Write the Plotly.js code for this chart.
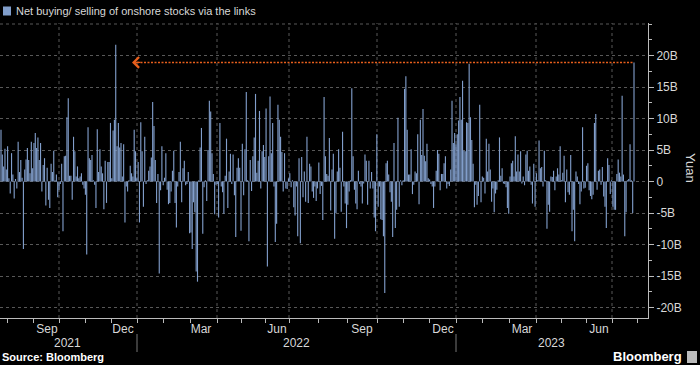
<!DOCTYPE html>
<html>
<head>
<meta charset="utf-8">
<script src="https://cdn.plot.ly/plotly-3.0.1.min.js"></script>
<style>
  html, body { margin: 0; padding: 0; background: #000; }
  #chart { width: 700px; height: 365px; }
</style>
</head>
<body>
<div id="chart"></div>
<script>
// Daily net buying / selling of onshore (A-share) stocks via the Stock Connect links, billions of yuan.
// One value per trading day, late Jul 2021 -> 31 Jul 2023.
const flowsAugOct2021 = [8.2, 4.3, 2.4, 5.2, 1.9, 5.6, 0.5, -1.9, 4.5, 1.1, -2.7, 0.4, -1.1, 6.3, 1.5, 3.4, 0.6, -10.7, 1.9, 3.5,
  5.3, 3.4, 1.3, 6.3, 2.1, 6.1, 7.7, 5.3, 7.0, 3.4, 6.1, -1.6, 2.6, 3.7, -3.8, 2.2, -2.9, -4.2, 2.8, 1.5,
  4.9, 0.2, 1.1, -2.5, -1.3, -0.4, 2.8, -7.9, 4.0, 4.1, 10.2, 13.2, 0.9, 0.9, -2.9, 7.1, 4.8, 0.8, 2.4, 0.5,
  0.8, 1.3, -0.5, -1.1, -2.1, -11.6, 8.6, 3.7, 3.4, 4.2, 0.2, -0.5, -4.2, 8.3, 1.5, 5.1, 2.4, 1.3, -4.4, 3.3,
  -3.4, 3.1];
const flowsNov2021Jan2022 = [3.1, 9.3, 0.5, 8.1, 9.8, 21.7, 5.6, 9.3, 5.4, 6.1, 0.8, 5.9, -6.5, -0.8, -1.6, 0.2, 2.5, 1.3, 0.8, 8.2,
  4.8, 0.5, 3.1, -6.5, 9.4, 4.8, -4.0, 7.1, -0.4, 0.2, 1.7, 2.4, 3.8, 12.6, 8.8, 3.4, -3.4, 1.2, -14.6, -1.4,
  5.6, -0.6, 0.6, 4.5, -1.3, -3.6, -3.4, -1.6, 1.7, 4.9, -3.4, -7.3, -0.8, 1.5, 6.3, -3.3, 2.1, 3.3, -0.6, -0.4,
  1.5, -8.2, -8.1, -10.7, -3.3, -4.9, -14.3, -15.9, 0.2, 5.4, 8.5, -8.3, -0.9, 0.2, -3.1, 5.0, 12.8, 11.1, 4.5, 1.2];
const flowsApr2022Jul2022 = [-5.2, -0.5, -0.4, -5.7, 9.3, -0.8, -1.7, -5.1, 0.9, 6.8, -4.2, 1.6, 4.4, -0.4, 4.3, -2.2, -8.8, 2.2, 3.7, 2.2,
  -7.8, 6.0, -2.2, 5.1, 14.2, 0.2, -9.5, 3.4, -1.5, 4.0, 7.0, 13.9, 1.4, 3.3, 11.2, -1.1, 4.8, 5.8, 3.9, 11.6,
  -13.5, 4.0, 13.5, 4.5, 9.3, -0.8, -9.6, -6.7, 12.2, 9.8, 7.1, 4.7, -1.6, 4.5, -1.1, -1.2, 0.5, 1.3, -0.9, 0.2,
  -4.1, -5.4, -0.8, -8.7, 3.7, -9.8, 3.9, -2.5, 1.6, -3.2, 7.1, -3.4, 2.8, 2.4, -1.6, -2.6, -0.8, -3.1, -1.1, 3.0,
  -2.0];
const flowsAugNov2022 = [-0.7, -6.1, 13.4, 4.0, 1.2, 0.9, 6.9, -4.6, 1.9, 4.4, -9.1, -5.0, 1.6, 5.1, 2.2, -4.8, 7.9, -0.8, -3.5, -7.4,
  -3.7, -1.6, 0.2, 14.8, 4.0, -1.3, -3.5, -4.4, 1.7, -0.4, -0.8, -3.5, -0.3, 4.3, 3.3, -3.7, 3.3, -1.1, 1.5, -1.1,
  -5.7, -7.9, 7.5, -4.0, -0.8, -6.0, -6.1, -8.7, -17.7, 2.9, 3.3, 1.1, -1.7, -3.2, -8.8, 6.1, -7.4, -4.5, 10.1, -4.0,
  0.2, -0.6, 0.2, 14.7, 16.7, 8.2, 1.1, 1.1, 5.1, -2.0, -0.5, 1.6, 1.3, 7.5, -3.6, 9.8, 4.2, 11.5, 4.1, 3.2,
  6.0];
const flowsDec2022Mar2023 = [0.5, 0.3, -0.4, -0.8, -4.2, -0.8, 1.7, 5.0, 4.4, -1.4, 1.2, 1.2, 2.9, 4.0, -1.1, -0.4, -0.7, 1.9, 12.8, 6.1,
  7.7, 5.9, 7.5, 9.7, 13.4, 9.8, 16.0, 4.9, 4.8, 9.4, 9.3, 18.7, 10.2, 6.6, 2.8, -4.1, -0.5, -3.7, -2.3, 12.2,
  -3.3, 0.8, 0.6, -1.9, 6.8, 1.6, 6.0, 1.9, -3.2, -1.1, -4.9, -1.9, -1.3, 0.2, 7.0, 0.9, 2.1, -0.3, -0.4, -0.9,
  -4.2, -5.1, 0.8, 2.9, 3.3, 0.8, 7.2, 1.6, 4.3, 1.6, 4.8, -0.3, 0.8, -0.6, 4.3, 4.9, 1.7, 2.4, -0.5, -3.5,
  2.8, -4.0];
const flowsApr2023Jul2023 = [1.3, 0.2, 6.5, 2.1, 2.3, -0.8, 4.9, 0.2, -7.5, -3.7, -4.8, 0.8, 0.7, 1.7, -1.4, 0.8, 2.1, 1.1, 5.6, 0.2,
  1.4, 4.1, -3.3, 1.9, -1.7, -2.1, 4.2, -7.9, -4.5, -9.5, 1.6, 0.8, -0.4, -3.6, -1.6, 8.6, -1.1, -1.0, 2.5, 2.9,
  -1.4, -2.3, -2.8, -2.1, 9.3, 10.7, -1.3, 1.7, 1.9, -0.5, 2.3, -2.4, -4.0, -7.4, 3.7, 2.6, -2.0, 0.2, -4.0, -4.5,
  -4.5, 1.2, 3.5, 1.4, 0.8, 13.6, 1.1, -8.7, -4.9, 0.2, 0.4, 5.9, 0.2, -5.0, 18.9];

const monthLabels = ['Sep', 'Dec', 'Mar', 'Jun', 'Sep', 'Dec', 'Mar', 'Jun'];
const yearLabels = ['2021', '2022', '2023'];
const yTickValues = [-20, -15, -10, -5, 0, 5, 10, 15, 20];
const yTickLabels = ['-20B', '-15B', '-10B', '-5B', '0', '5B', '10B', '15B', '20B'];
const seriesName = 'Net buying/ selling of onshore stocks via the links';
const latestLevel = 18.9;   // Jul 31 2023 inflow, marked by the arrow

// ---- build the series ----
const flows = [].concat(flowsAugOct2021, flowsNov2021Jan2022, flowsApr2022Jul2022,
                        flowsAugNov2022, flowsDec2022Mar2023, flowsApr2023Jul2023);
const N = flows.length;
const dayIdx = flows.map((_, i) => i);

// ---- layout geometry (pixels of the 700x365 frame) ----
const PLOT_L = 0, PLOT_R = 648, PLOT_T = 23, PLOT_B = 318;
const FIRST_PX = 1, LAST_PX = 634;
const pxPerDay = (LAST_PX - FIRST_PX) / (N - 1);
const px2i = px => (px - FIRST_PX) / pxPerDay;
const py2p = py => (PLOT_B - py) / (PLOT_B - PLOT_T);
const px2p = px => (px - PLOT_L) / (PLOT_R - PLOT_L);

const quarterPx = [59, 137, 217, 289, 377, 456, 536, 612];
const monthPx = [7, 33];
for (let q = 0; q < quarterPx.length - 1; q++) {
  const a = quarterPx[q], b = quarterPx[q + 1];
  monthPx.push(a, a + (b - a) / 3, a + 2 * (b - a) / 3);
}
monthPx.push(612, 637);
const labelPx = [47, 123, 201, 277, 362, 443, 522, 599];
const yearPx = [67, 296, 551];
const yearSepPx = [137, 456];

const barColor = '#819ecb';
const gridColor = '#585858';
const textColor = '#d8d8d8';
const orange = '#e85f1c';
const FONT = 'Liberation Sans, Arial, sans-serif';

const trace = {
  type: 'bar',
  x: dayIdx,
  y: flows,
  name: seriesName,
  marker: { color: barColor, line: { width: 0 } },
  hoverinfo: 'skip',
  showlegend: false
};

const shapes = [];
quarterPx.forEach(p => shapes.push({
  type: 'line', xref: 'x', yref: 'paper', x0: px2i(p), x1: px2i(p), y0: 0, y1: 1,
  line: { color: gridColor, width: 1, dash: 'dot' }, layer: 'below'
}));
shapes.push({ type: 'line', xref: 'paper', yref: 'y', x0: 0, x1: 1, y0: 25, y1: 25,
  line: { color: gridColor, width: 1, dash: 'dot' }, layer: 'below' });
yearSepPx.forEach(p => shapes.push({
  type: 'line', xref: 'x', yref: 'paper', x0: px2i(p), x1: px2i(p), y0: py2p(334), y1: py2p(352),
  line: { color: '#777', width: 1 }
}));
// orange dotted reference line at the latest level
shapes.push({ type: 'line', xref: 'x', yref: 'y', x0: px2i(137), x1: N - 1, y0: latestLevel, y1: latestLevel,
  line: { color: orange, width: 1.5, dash: '2px,1.5px' } });
// legend swatch
shapes.push({ type: 'rect', xref: 'paper', yref: 'paper', x0: px2p(3), x1: px2p(11), y0: py2p(15.5), y1: py2p(6.5),
  fillcolor: barColor, line: { width: 0 } });
// bloomberg logo block
shapes.push({ type: 'rect', xref: 'paper', yref: 'paper', x0: px2p(687), x1: px2p(697), y0: py2p(363), y1: py2p(351),
  fillcolor: '#bbbbbb', line: { width: 0 } });

const annotations = [
  { xref: 'paper', yref: 'paper', x: px2p(14), y: py2p(11), xanchor: 'left', yanchor: 'middle',
    text: seriesName, showarrow: false, font: { family: FONT, size: 11, color: textColor } },
  { xref: 'paper', yref: 'paper', x: px2p(691), y: py2p(168), xanchor: 'center', yanchor: 'middle',
    text: 'Yuan', textangle: 90, showarrow: false, font: { family: FONT, size: 13, color: textColor } },
  { xref: 'paper', yref: 'paper', x: px2p(0), y: py2p(357), xanchor: 'left', yanchor: 'middle',
    text: '<b>Source: Bloomberg</b>', showarrow: false, font: { family: FONT, size: 11, color: '#ffffff' } },
  { xref: 'paper', yref: 'paper', x: px2p(684), y: py2p(356), xanchor: 'right', yanchor: 'middle',
    text: '<b>Bloomberg</b>', showarrow: false, font: { family: FONT, size: 13, color: '#ffffff' } },
  { xref: 'x', yref: 'y', x: px2i(132), y: latestLevel, axref: 'x', ayref: 'y', ax: px2i(142), ay: latestLevel,
    text: '', showarrow: true, arrowhead: 4, arrowsize: 1.6, arrowwidth: 1.3, arrowcolor: orange }
];
yearLabels.forEach((t, k) => annotations.push({
  xref: 'x', yref: 'paper', x: px2i(yearPx[k]), y: py2p(343), xanchor: 'center', yanchor: 'middle',
  text: t, showarrow: false, font: { family: FONT, size: 12, color: textColor }
}));

const layout = {
  width: 700, height: 365,
  margin: { l: PLOT_L, r: 700 - PLOT_R, t: PLOT_T, b: 365 - PLOT_B, pad: 0 },
  paper_bgcolor: '#000000', plot_bgcolor: '#000000',
  bargap: 0.15,
  showlegend: false,
  font: { family: FONT, color: textColor, size: 12 },
  xaxis: {
    range: [px2i(PLOT_L), px2i(PLOT_R)],
    tickmode: 'array', tickvals: labelPx.map(px2i), ticktext: monthLabels,
    ticks: '', showgrid: false, zeroline: false,
    showline: true, linecolor: '#bbbbbb', linewidth: 1,
    tickfont: { family: FONT, size: 12, color: textColor },
    ticklabelstandoff: 0,
    minor: { tickmode: 'array', tickvals: monthPx.map(px2i), ticks: 'outside', ticklen: 4,
             tickcolor: '#bbbbbb', tickwidth: 1, showgrid: false },
    fixedrange: true
  },
  yaxis: {
    side: 'right',
    range: [(181.5 - PLOT_B) / 6.3, (181.5 - PLOT_T) / 6.3],
    tickmode: 'array', tickvals: yTickValues, ticktext: yTickLabels,
    ticks: 'outside', ticklen: 5, tickcolor: '#bbbbbb', tickwidth: 1,
    showgrid: true, gridcolor: gridColor, griddash: 'dot', gridwidth: 1,
    zeroline: false,
    showline: true, linecolor: '#bbbbbb', linewidth: 1,
    tickfont: { family: FONT, size: 12, color: textColor },
    minor: { tickmode: 'linear', tick0: 0, dtick: 2.5, ticks: 'outside', ticklen: 3,
             tickcolor: '#bbbbbb', showgrid: false },
    fixedrange: true
  },
  shapes: shapes,
  annotations: annotations
};

Plotly.newPlot('chart', [trace], layout, { displayModeBar: false, staticPlot: true });
</script>
</body>
</html>
